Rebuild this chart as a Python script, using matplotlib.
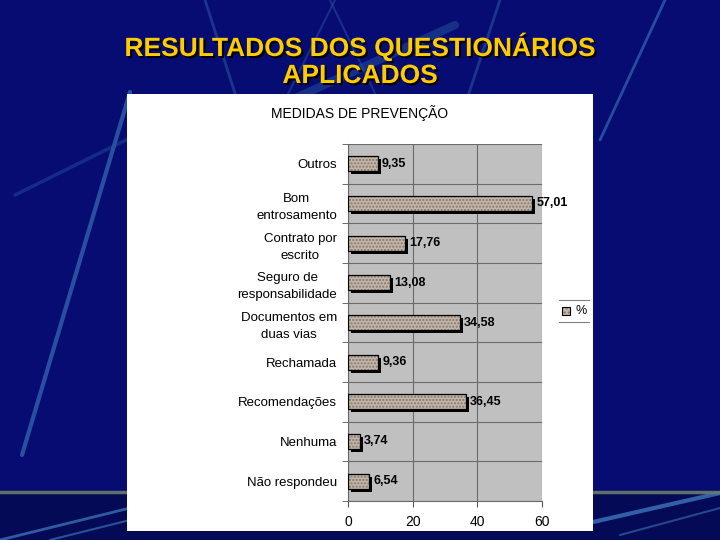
import matplotlib
matplotlib.use("Agg")
import matplotlib.pyplot as plt
import matplotlib.patheffects as pe
import matplotlib.transforms as mtransforms
from matplotlib.lines import Line2D
from matplotlib.patches import Rectangle
import numpy as np

plt.rcParams['font.family'] = ['Liberation Sans', 'DejaVu Sans']

categories = ["Outros", "Bom\nentrosamento", "Contrato por\nescrito",
              "Seguro de\nresponsabilidade", "Documentos em\nduas vias",
              "Rechamada", "Recomendações", "Nenhuma", "Não respondeu"]
values = [9.35, 57.01, 17.76, 13.08, 34.58, 9.36, 36.45, 3.74, 6.54]
value_labels = ["9,35", "57,01", "17,76", "13,08", "34,58", "9,36", "36,45", "3,74", "6,54"]
xticks = [0, 20, 40, 60]

W, H = 720, 540
BAR_FACE = '#c2b6ab'
BAR_DOTS = '#857468'

fig = plt.figure(figsize=(7.2, 5.4), dpi=100)
fig.patch.set_facecolor('#060c72')

def px(x, y):
    return x / W, 1 - y / H

# slide background decoration
bg = fig.add_axes([0, 0, 1, 1], zorder=-10)
bg.set_xlim(0, W)
bg.set_ylim(H, 0)
bg.axis('off')
bg.add_patch(Rectangle((0, 0), W, H, color='#060c72'))
bg.add_patch(Rectangle((0, 493), W, 47, color='#040a55'))
decor = [
    ((205, 0), (250, 140), 2.0, '#2a52a0', 0.6),
    ((335, 0), (265, 140), 1.5, '#2a52a0', 0.5),
    ((455, 25), (215, 135), 6.0, '#2a5aa6', 0.45),
    ((330, 0), (395, 135), 1.5, '#2a52a0', 0.5),
    ((500, 0), (455, 135), 2.0, '#2a52a0', 0.6),
    ((665, 0), (600, 140), 2.0, '#3568b0', 0.7),
    ((130, 92), (22, 455), 3.0, '#3568b0', 0.75),
    ((130, 138), (15, 195), 2.5, '#2a52a0', 0.45),
    ((0, 540), (130, 508), 2.0, '#3a70b8', 0.8),
    ((50, 540), (130, 520), 1.5, '#3a70b8', 0.7),
    ((593, 522), (720, 493), 3.0, '#3a70b8', 0.85),
    ((620, 535), (720, 508), 1.5, '#3a70b8', 0.6),
]
for (x0, y0), (x1, y1), lw, c, a in decor:
    bg.add_line(Line2D([x0, x1], [y0, y1], lw=lw, color=c, alpha=a,
                       solid_capstyle='round'))
bg.add_line(Line2D([0, 720], [492, 492], lw=2.5, color='#6b7d6a', alpha=0.9))

# slide title
for i, line in enumerate(["RESULTADOS DOS QUESTIONÁRIOS", "APLICADOS"]):
    fig.text(*px(360, 47 + 29 * i), line, ha='center', va='center',
             fontsize=19, fontweight='bold', color='#ffcc00',
             path_effects=[pe.withSimplePatchShadow(offset=(1.5, -1.5),
                                                    shadow_rgbFace='black',
                                                    alpha=1.0)])

# white chart panel
panel = fig.add_axes([127 / W, 1 - 531 / H, (593 - 127) / W, (531 - 94) / H], zorder=-5)
panel.set_facecolor('white')
panel.set_xticks([])
panel.set_yticks([])
for s in panel.spines.values():
    s.set_visible(False)

fig.text(*px(360, 113), "MEDIDAS DE PREVENÇÃO", ha='center', va='center',
         fontsize=10, color='black')

ax = fig.add_axes([348 / W, 1 - 501 / H, (542 - 348) / W, (501 - 144) / H])
ax.set_facecolor('#c0c0c0')
y = np.arange(len(categories))
bh = 0.37

# black drop shadow, shifted 3 px right/down
shadow_tr = mtransforms.offset_copy(ax.transData, fig=fig, x=3, y=-3, units='dots')
shadows = ax.barh(y, values, height=bh, color='black', linewidth=0, zorder=2)
for p in shadows:
    p.set_transform(shadow_tr)
bars = ax.barh(y, values, height=bh, color=BAR_FACE, edgecolor=BAR_DOTS,
               hatch='.....', linewidth=0, zorder=3)
ax.barh(y, values, height=bh, fill=False, edgecolor='black', linewidth=0.9, zorder=4)

for yi, v, lab in zip(y, values, value_labels):
    ax.text(v + 1.2, yi, lab, ha='left', va='center', fontsize=9,
            fontweight='bold', color='black', zorder=5)

ax.set_xlim(0, 60)
ax.set_ylim(len(categories) - 0.5, -0.5)
ax.set_xticks(xticks)
ax.set_xticklabels([str(t) for t in xticks], fontsize=10)
ax.set_yticks(y)
ax.set_yticklabels(categories, fontsize=9.5)
for lbl in ax.get_yticklabels():
    lbl.set_multialignment('center')
    lbl.set_linespacing(1.55)
ax.tick_params(axis='y', which='major', length=0, pad=8)
ax.set_yticks(np.arange(-0.5, len(categories), 1), minor=True)
ax.tick_params(axis='y', which='minor', length=4, color='#555555')
ax.tick_params(axis='x', length=4, color='#555555', pad=6)
ax.grid(True, which='minor', axis='y', color='#6a6a6a', lw=0.8, zorder=1)
ax.grid(True, which='major', axis='x', color='#6a6a6a', lw=0.8, zorder=1)
for name, s in ax.spines.items():
    s.set_visible(name in ('left', 'bottom'))
    s.set_color('#6a6a6a')
    s.set_linewidth(0.8)

# legend: top and bottom rules, swatch and label
for ly in (300, 322):
    panel.add_line(Line2D([559 / W, 589 / W], [1 - ly / H, 1 - ly / H],
                          transform=fig.transFigure, color='#808080', lw=0.8))
fig.patches.append(Rectangle(px(562, 315), 8 / W, 8 / H, transform=fig.transFigure,
                             facecolor=BAR_FACE, edgecolor=BAR_DOTS, hatch='....',
                             lw=0, zorder=3))
fig.patches.append(Rectangle(px(562, 315), 8 / W, 8 / H, transform=fig.transFigure,
                             fill=False, edgecolor='black', lw=0.8, zorder=4))
fig.text(*px(575, 311), "%", ha='left', va='center', fontsize=9, color='black')

fig.savefig("out.png", dpi=100, facecolor=fig.get_facecolor())
